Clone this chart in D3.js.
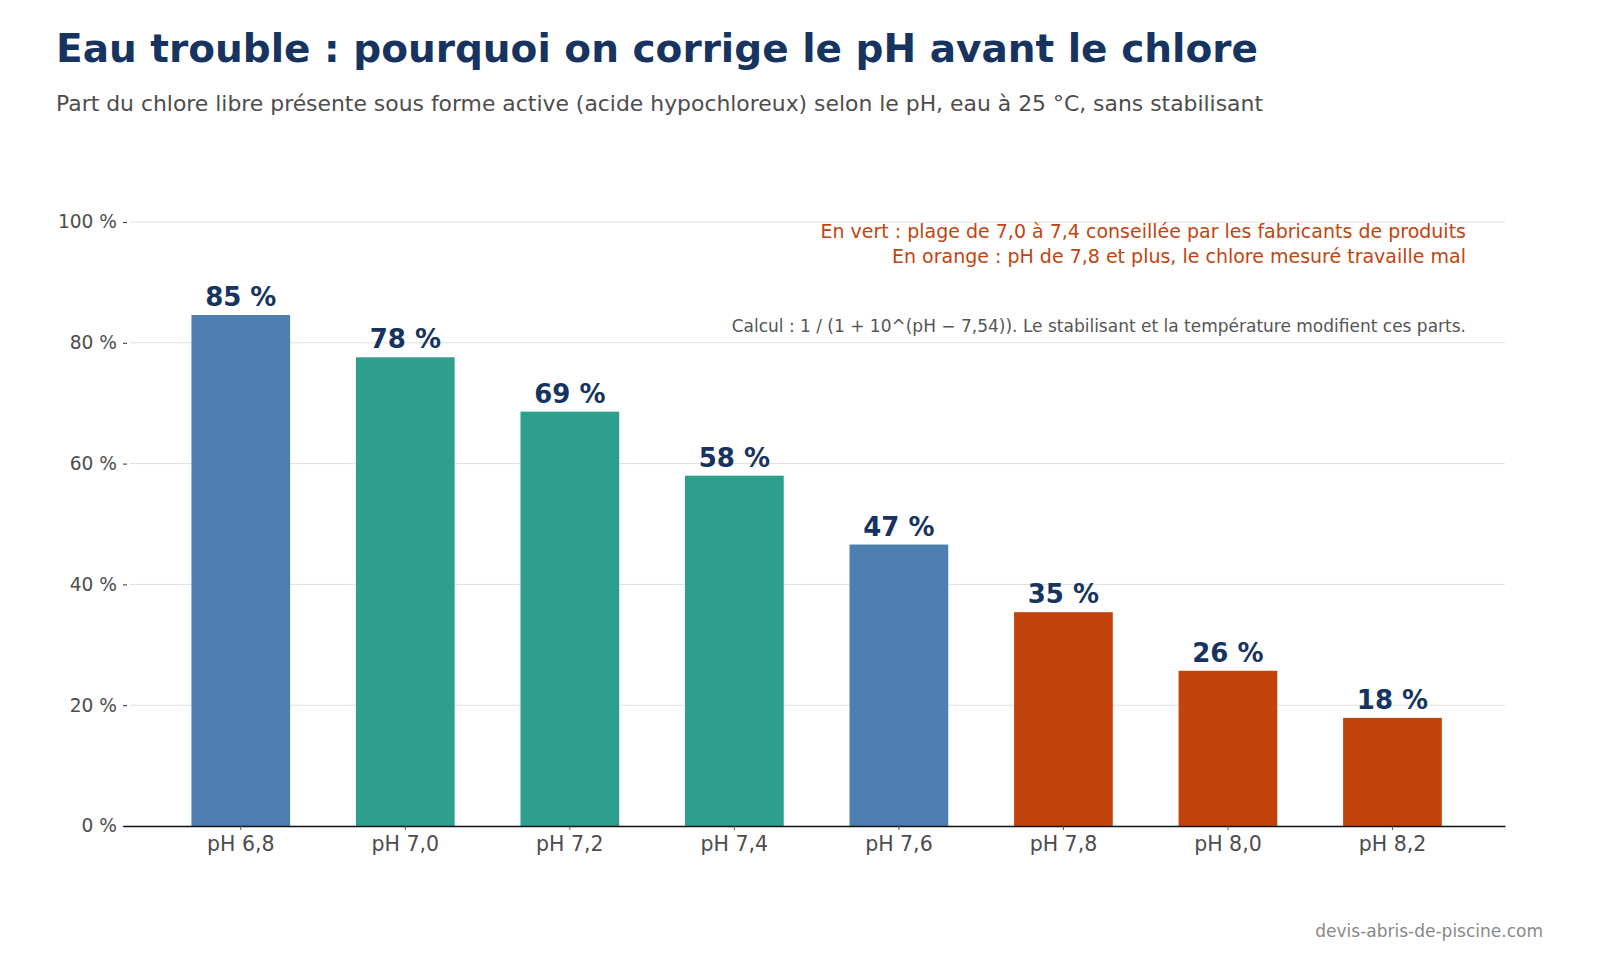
<!DOCTYPE html>
<html>
<head>
<meta charset="utf-8">
<script src="https://cdn.jsdelivr.net/npm/d3@7"></script>
<style>
  html, body { margin: 0; padding: 0; background: #ffffff; }
  svg { display: block; font-family: "DejaVu Sans", sans-serif; }
</style>
</head>
<body>
<div id="chart"></div>
<script>
// === DATA ===
const categories = ['pH 6,8', 'pH 7,0', 'pH 7,2', 'pH 7,4', 'pH 7,6', 'pH 7,8', 'pH 8,0', 'pH 8,2'];
const activeShare = [84.6, 77.6, 68.6, 58.0, 46.6, 35.4, 25.7, 17.9];
const zone = ['neutral', 'advised', 'advised', 'advised', 'neutral', 'poor', 'poor', 'poor'];
const yTicks = [0, 20, 40, 60, 80, 100];
const notes = [
    'En vert : plage de 7,0 à 7,4 conseillée par les fabricants de produits',
    'En orange : pH de 7,8 et plus, le chlore mesuré travaille mal'
];

const zoneColor = { neutral: '#4f7fb0', advised: '#2e9f8e', poor: '#c0440b' };

const width = 1600;
const height = 960;

const svg = d3.select('#chart')
    .append('svg')
    .attr('width', width)
    .attr('height', height);

// Title + subtitle
svg.append('text')
    .attr('x', 56)
    .attr('y', 62)
    .attr('font-size', 39)
    .attr('font-weight', 'bold')
    .attr('fill', '#173360')
    .text('Eau trouble : pourquoi on corrige le pH avant le chlore');

svg.append('text')
    .attr('x', 56)
    .attr('y', 111)
    .attr('font-size', 21.9)
    .attr('fill', '#4d4d4d')
    .text('Part du chlore libre présente sous forme active (acide hypochloreux) selon le pH, eau à 25 °C, sans stabilisant');

// Scales
const x = d3.scaleBand()
    .domain(categories)
    .range([123, 1505])
    .paddingInner(0.4)
    .paddingOuter(0.4)
    .align(0.52);

const y = d3.scaleLinear()
    .domain([0, 100])
    .range([826, 222]);

// Gridlines
svg.append('g')
    .selectAll('line')
    .data(yTicks.filter(d => d > 0))
    .enter()
    .append('line')
    .attr('x1', 130)
    .attr('x2', 1505)
    .attr('y1', d => y(d))
    .attr('y2', d => y(d))
    .style('stroke', '#e0e0e0')
    .style('stroke-width', 1);

// Y axis (no spine)
const yAxis = svg.append('g')
    .attr('transform', 'translate(127,0)')
    .call(d3.axisLeft(y).tickValues(yTicks).tickSize(4).tickPadding(6).tickFormat(d => d + ' %'));
yAxis.select('.domain').remove();
yAxis.selectAll('.tick line').style('stroke', '#333');
yAxis.selectAll('.tick text')
    .attr('font-size', 18.6)
    .attr('font-family', '"DejaVu Sans", sans-serif')
    .attr('fill', '#4d4d4d');

// Bars
svg.append('g')
    .selectAll('rect')
    .data(categories)
    .enter()
    .append('rect')
    .attr('x', d => x(d))
    .attr('width', x.bandwidth())
    .attr('y', (d, i) => y(activeShare[i]))
    .attr('height', (d, i) => y(0) - y(activeShare[i]))
    .attr('fill', (d, i) => zoneColor[zone[i]]);

// Value labels
svg.append('g')
    .selectAll('text')
    .data(categories)
    .enter()
    .append('text')
    .attr('x', d => x(d) + x.bandwidth() / 2)
    .attr('y', (d, i) => y(activeShare[i]) - 9)
    .attr('text-anchor', 'middle')
    .attr('font-size', 26)
    .attr('font-weight', 'bold')
    .attr('fill', '#173360')
    .text((d, i) => Math.round(activeShare[i]) + ' %');

// X axis
const xAxis = svg.append('g')
    .attr('transform', `translate(0,${y(0)})`)
    .call(d3.axisBottom(x).tickSize(4).tickPadding(6).tickSizeOuter(0));
xAxis.select('.domain').style('stroke', '#111').style('stroke-width', 1.3);
xAxis.selectAll('.tick line').style('stroke', '#555');
xAxis.selectAll('.tick text')
    .attr('font-size', 20.5)
    .attr('font-family', '"DejaVu Sans", sans-serif')
    .attr('fill', '#4d4d4d');

// Notes top-right
svg.append('g')
    .selectAll('text')
    .data(notes)
    .enter()
    .append('text')
    .attr('x', 1466)
    .attr('y', (d, i) => 238 + i * 25)
    .attr('text-anchor', 'end')
    .attr('font-size', 19)
    .attr('fill', '#bf4510')
    .text(d => d);

svg.append('text')
    .attr('x', 1466)
    .attr('y', 332)
    .attr('text-anchor', 'end')
    .attr('font-size', 17)
    .attr('fill', '#555')
    .text('Calcul : 1 / (1 + 10^(pH − 7,54)). Le stabilisant et la température modifient ces parts.');

// Source
svg.append('text')
    .attr('x', 1543)
    .attr('y', 937)
    .attr('text-anchor', 'end')
    .attr('font-size', 17)
    .attr('fill', '#888')
    .text('devis-abris-de-piscine.com');
</script>
</body>
</html>
